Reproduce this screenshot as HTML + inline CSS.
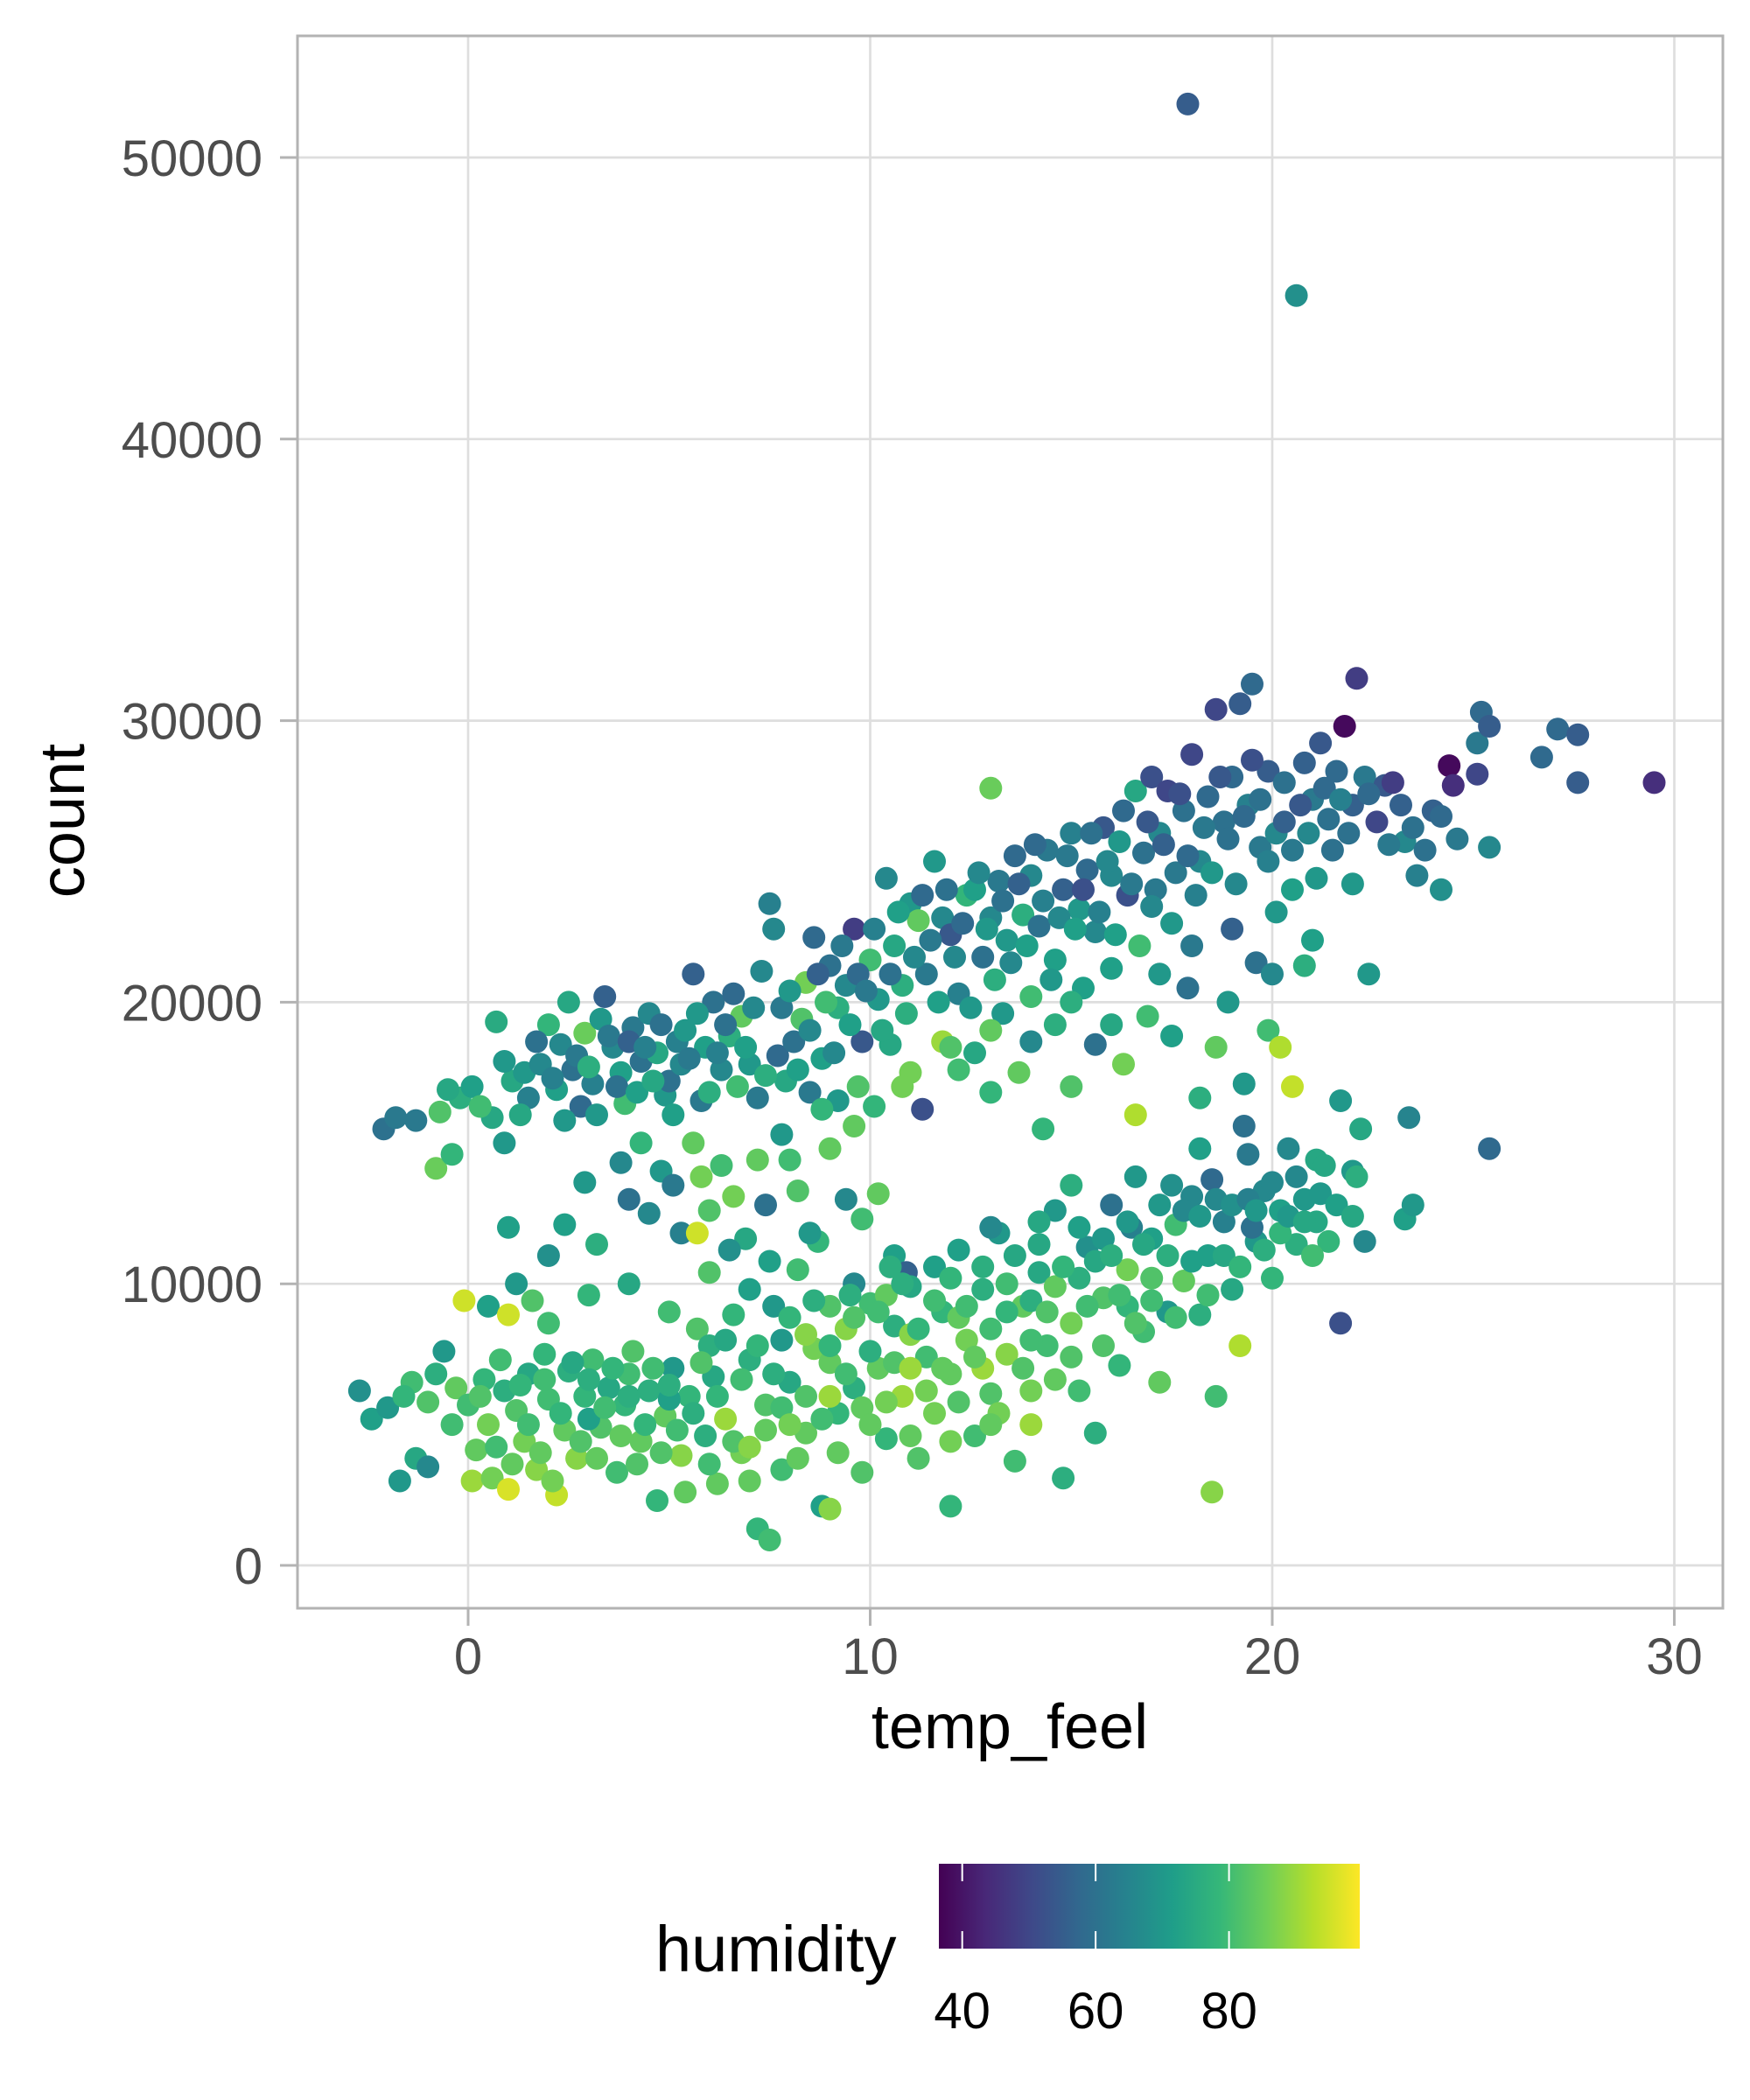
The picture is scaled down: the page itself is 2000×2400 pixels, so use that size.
<!DOCTYPE html>
<html><head><meta charset="utf-8"><style>html,body{margin:0;padding:0;background:#fff}svg{display:block}</style></head>
<body>
<svg id="chart" width="2000" height="2400" xmlns="http://www.w3.org/2000/svg" font-family="Liberation Sans, sans-serif">
<defs>
<linearGradient id="vir" x1="0" x2="1" y1="0" y2="0">
<stop offset="0" stop-color="#440154"/><stop offset="0.111" stop-color="#482878"/><stop offset="0.222" stop-color="#3e4989"/><stop offset="0.333" stop-color="#31688e"/><stop offset="0.444" stop-color="#26828e"/><stop offset="0.556" stop-color="#1f9e89"/><stop offset="0.667" stop-color="#35b779"/><stop offset="0.778" stop-color="#6ece58"/><stop offset="0.889" stop-color="#b5de2b"/><stop offset="1" stop-color="#fde725"/>
</linearGradient>
</defs>
<rect x="340" y="41" width="1629" height="1797" fill="#fff"/>
<g id="grid"></g>
<g id="pts"></g>
<rect x="340" y="41" width="1629" height="1797" fill="none" stroke="#b3b3b3" stroke-width="3"/>
<g id="axes"></g>
<text x="1154" y="1998" font-size="72" text-anchor="middle" fill="#000">temp_feel</text>
<text transform="translate(96,938) rotate(-90)" font-size="72" text-anchor="middle" fill="#000">count</text>
<text x="749" y="2253" font-size="74" fill="#000">humidity</text>
<rect x="1073" y="2130" width="481" height="97" fill="url(#vir)"/>
<g id="legend"></g>
</svg>
<script>
const xTicks=[0,10,20,30];
const yTicks=[0,10000,20000,30000,40000,50000];
const legendTicks=[40,60,80];
const temps=[];const counts=[];const hums=[];
const raw=`-2.1 15.5 60;-1.3 15.8 62;-0.8 14.1 85;-0.7 16.1 82;-0.4 14.6 78;-0.2 16.6 76;0.1 17 72;0.7 19.3 75;0.6 15.9 74;0.9 15 70;1.1 17.2 74;1.4 17.5 70;1.5 16.6 64;1.8 17.8 66;2 19.2 78;2.2 16.9 72;2.3 18.5 66;2.5 20 74;2.6 17.6 60;2.8 16.3 58;2.9 18.9 85;3.1 17.1 64;3.3 19.4 70;3.4 20.2 56;3.6 18.4 66;3.8 17.5 72;3.9 16.4 80;4.1 19.1 62;4.3 17.9 60;4.5 19.6 66;4.7 18.2 74;4.9 16.7 70;5.0 17.2 60;5.2 18.6 64;5.4 19.0 70;5.6 21.0 56;5.8 16.5 62;5.9 18.4 72;6.1 20.0 60;6.3 17.6 66;6.6 20.3 58;6.5 18.8 76;6.8 19.5 84;7.0 17.8 70;7.2 16.6 62;7.3 21.1 66;7.5 23.5 64;7.6 22.6 66;7.7 18.1 58;7.9 17.2 74;8.1 18.6 60;8.3 19.4 82;8.4 20.7 86;8.6 22.3 58;8.8 18.0 72;9.0 21.3 60;9.2 19.8 76;9.4 20.6 66;9.6 22.6 48;9.8 18.6 54;10.0 21.5 80;10.2 20.1 70;10.4 24.4 66;10.6 22.0 74;10.8 20.6 76;11.0 23.5 70;11.2 22.9 84;11.4 21.0 62;11.6 25.0 70;11.8 23.0 66;12.0 22.4 54;12.2 20.3 64;12.4 23.8 78;12.6 24.0 72;12.8 21.6 60;13.0 23.0 66;13.2 24.3 62;13.4 22.2 70;13.6 25.2 58;13.8 23.1 76;14.0 24.5 66;14.2 22.7 60;14.4 25.4 62;14.6 21.5 72;14.8 24.0 56;15.0 26.0 64;15.2 23.3 70;15.4 24.7 58;15.6 22.5 66;15.8 26.2 54;16.0 24.5 66;16.2 25.7 70;16.4 23.8 52;16.6 27.5 74;16.8 25.3 60;17.0 28.0 52;17.2 26.0 66;17.4 27.5 50;17.6 24.6 62;17.8 26.8 60;18.0 28.8 50;18.2 25.0 66;18.4 27.3 58;18.6 30.4 50;18.8 26.4 60;19.0 28.0 58;19.2 30.6 55;19.4 27.0 64;19.5 31.3 58;19.7 25.5 62;19.9 28.2 55;20.1 26.0 66;20.3 27.8 60;20.5 24.0 72;20.8 28.5 56;21.0 27.2 62;21.2 29.2 54;21.4 26.5 60;21.6 28.2 58;21.8 29.8 38;22.0 27.0 56;22.1 31.5 48;22.3 28.0 62;22.6 26.4 50;22.8 27.7 54;23.0 27.8 48;23.3 25.7 66;23.5 26.2 60;23.6 24.5 64;24.0 26.8 56;24.2 24.0 68;24.4 28.4 38;24.5 27.7 45;25.2 30.3 58;25.1 29.2 62;25.4 29.8 55;25.1 28.1 50;24.6 25.8 62;25.4 25.5 66;26.7 28.7 58;27.1 29.7 58;27.6 29.5 55;27.6 27.8 55;29.5 27.8 45;17.9 51.9 55;20.6 45.1 68;13.0 27.6 85;
8 14.4 80;8.5 16.8 62;9.2 16.5 70;9.7 17.0 82;10.1 16.3 78;10.5 18.5 74;11 17.5 86;11.3 16.2 52;11.8 18.6 90;12.2 17.6 80;12.6 18.2 74;13.0 16.8 78;13.3 19.6 70;13.7 17.5 84;14.0 18.6 66;14.3 15.5 78;14.6 19.2 76;15.0 17.0 82;15.3 20.5 72;15.6 18.5 60;16.0 19.2 74;16.3 17.8 86;16.6 16.0 92;16.9 19.5 80;17.2 21.0 70;17.5 18.8 72;17.9 20.5 60;18.2 16.6 76;18.6 18.4 84;18.9 20.0 70;19.3 17.1 70;19.6 21.4 60;19.9 19.0 80;20.2 18.4 92;20.5 17.0 94;20.8 21.3 76;21.1 14.4 74;21.7 16.5 70;22.2 15.5 74;22.4 21.0 70;22.0 24.2 70;
1.0 12.0 72;2.0 11.0 68;2.4 12.1 72;2.9 13.6 70;3.2 11.4 76;3.8 14.3 66;4.0 13.0 60;4.3 15.0 78;4.5 12.5 66;4.8 14.0 70;5.1 13.5 62;5.3 11.8 64;5.6 15.0 84;5.8 13.8 86;6.0 12.6 82;6.3 14.2 80;6.6 13.1 86;6.9 11.6 74;7.2 14.4 84;7.4 12.8 60;7.8 15.3 70;8.2 13.3 82;8.7 11.5 78;9.0 14.8 84;9.4 13.0 66;9.8 12.3 80;10.2 13.2 84;10.6 11.0 72;10.9 10.4 56;0.5 9.2 72;1.2 10.0 70;5.7 11.8 95;
-2.7 6.2 68;-2.4 5.2 72;-1.7 3.0 70;-1.3 3.8 74;-1.0 3.5 66;-1.4 6.5 80;-1.0 5.8 82;-0.6 7.6 70;-0.3 6.3 84;-0.1 9.4 95;0.0 5.7 80;0.1 3.0 90;0.2 4.1 84;0.4 6.6 78;0.6 3.1 86;0.8 7.3 80;1.0 8.9 95;1.0 2.7 96;1.2 5.5 82;1.4 4.4 86;1.5 6.8 74;1.7 3.4 88;1.9 7.5 78;2.0 5.9 80;2.2 2.5 94;2.4 4.8 84;2.5 6.9 76;2.7 3.8 88;2.9 6.0 78;3.1 7.3 80;3.3 4.9 82;3.5 6.3 74;3.7 3.3 80;3.9 5.7 78;4.1 7.6 82;4.3 4.4 84;4.5 6.2 76;4.7 2.3 78;4.9 5.3 84;5.1 7.0 70;5.3 3.9 88;5.5 6.0 78;5.7 8.4 82;5.9 4.6 76;6.1 6.7 74;6.2 2.9 84;6.4 5.2 90;6.6 8.9 78;6.8 4.0 86;7.0 7.3 76;7.2 1.3 78;7.5 0.9 80;7.4 5.7 82;7.6 9.2 70;7.8 3.4 80;8.0 6.5 74;8.2 10.5 80;8.4 4.7 84;8.6 7.7 86;8.8 2.1 72;9.0 2.0 88;9.0 9.2 82;9.2 5.4 78;9.4 8.4 88;9.6 6.3 76;9.8 3.3 82;10.0 9.3 80;10.2 7.0 84;10.4 4.5 78;10.6 8.5 76;10.8 6.0 90;11.0 9.9 74;11.2 3.8 82;11.4 7.4 80;11.6 5.4 86;11.8 9.0 78;12.0 2.1 78;12.0 6.8 84;12.2 11.2 72;12.4 8.0 86;12.6 4.6 80;12.8 9.8 76;13.0 6.1 82;13.2 11.8 70;13.4 7.5 88;13.6 3.7 80;13.8 9.2 84;14.0 5.0 90;14.2 10.4 74;14.4 7.8 80;14.6 12.6 70;14.8 3.1 76;15.0 8.6 86;15.2 6.2 80;15.4 11.3 68;15.6 4.7 76;15.8 9.5 82;16.0 12.8 60;16.2 7.1 78;16.4 10.5 86;16.6 13.8 70;16.8 8.3 80;17.0 11.6 72;17.2 6.5 84;17.4 9.0 70;17.6 12.1 80;17.8 10.1 84;18.0 13.1 66;18.2 8.9 76;18.4 11.0 72;18.5 2.6 88;18.6 6.0 80;18.8 12.2 64;19.0 9.8 74;19.2 7.8 92;19.4 14.6 62;19.6 11.5 70;19.8 13.3 66;20.0 10.2 78;20.2 12.6 72;20.4 14.8 66;20.6 11.4 76;20.8 13.0 70;21.1 12.2 74;21.4 11.5 78;21.7 8.6 52;22.0 14.0 70;22.3 11.5 66;23.3 12.3 72;23.5 12.8 70;23.4 15.9 65;25.4 14.8 58;22.1 13.8 76;21.3 14.2 74;
3.0 5.2 72;4.0 6.8 80;5.0 5.9 72;6.0 7.8 76;7.0 9.8 72;7.8 8.0 70;8.4 8.2 88;9.0 7.2 84;9.6 10.0 66;10.4 9.6 84;11.0 8.2 88;11.6 10.6 72;12.2 8.8 84;12.8 7.0 90;13.4 10.0 80;14.0 9.4 76;14.6 9.9 84;15.2 10.2 76;15.8 11.6 70;16.4 9.2 78;17.0 10.2 82;13.0 12.0 66;14.2 12.2 74;15.0 13.5 76;16.5 12.0 64;17.5 13.5 68;18.5 13.7 58;19.5 12.0 60;18.2 14.8 72;19.3 15.6 60;
-1.8 15.9 62;-0.5 16.9 74;0.3 16.3 80;0.9 17.9 70;1.3 16.0 74;1.7 18.6 60;2.1 17.3 64;2.4 15.8 70;2.7 18.1 62;3.0 17.7 76;3.2 16.0 70;3.5 18.8 62;3.7 17.0 60;4.0 18.6 56;4.2 16.8 72;4.4 18.4 64;4.6 17.2 74;4.8 19.2 60;5.1 16.0 72;5.3 17.8 66;5.5 18.0 62;5.7 19.6 70;6.0 16.8 76;6.2 18.2 64;6.4 19.2 60;6.7 17.0 80;6.9 18.4 72;7.1 19.8 66;7.4 17.4 76;7.8 19.8 62;8.0 20.4 70;8.2 17.6 72;8.5 19.0 66;8.7 21.0 56;8.9 20.0 80;9.1 18.2 66;9.3 22.0 62;9.5 19.2 72;9.7 21.0 58;9.9 20.4 62;10.1 22.6 64;10.3 19.0 74;10.5 21.0 60;10.7 23.2 72;10.9 19.6 76;11.1 21.6 66;11.3 23.8 58;11.5 22.2 62;11.7 20.0 72;11.9 24.0 60;12.1 21.6 66;12.3 22.8 58;12.5 19.8 70;12.7 24.6 66;12.9 22.6 70;13.1 20.8 76;13.3 23.6 60;13.5 21.4 66;13.7 24.2 56;13.9 22.0 72;14.1 25.6 58;14.3 23.6 64;14.5 20.8 70;14.7 23.0 66;14.9 25.2 62;15.1 22.6 72;15.3 24.0 52;15.5 26.0 60;15.7 23.2 64;15.9 25.0 66;16.1 22.4 72;16.3 26.8 58;16.5 24.2 62;16.7 22.0 80;16.9 26.4 54;17.1 24.0 62;17.3 25.6 56;17.5 22.8 70;17.7 27.4 52;17.9 25.2 58;18.1 23.8 64;18.3 26.2 62;18.5 24.6 70;18.7 28.0 54;18.9 25.8 60;19.1 24.2 66;19.3 26.6 58;19.5 28.6 52;19.7 27.2 60;19.9 25.0 64;20.1 23.2 70;20.3 26.4 56;20.5 25.4 62;20.7 27.0 54;20.9 26.0 66;21.1 24.4 70;21.3 27.6 58;21.5 25.4 60;21.7 27.2 64;21.9 26.0 60;22.4 27.4 58;22.9 25.6 62;23.2 27.0 56;23.8 25.4 60;24.2 26.6 58;18.0 22.0 62;19.0 22.6 56;20.0 21.0 66;21.0 22.2 72;17.0 23.4 66;16.0 21.2 72;15.0 20.0 76;14.0 20.2 80;13.0 19.0 84;12.0 18.4 82;10.8 17.0 86;9.6 15.6 84;8.8 16.2 78;
-2.0 5.6 70;-1.6 6.0 78;-0.8 6.8 76;-0.4 5.0 80;0.3 6.0 82;0.5 5.0 86;0.7 4.2 80;0.9 6.2 76;1.1 3.6 84;1.3 6.4 78;1.5 5.0 80;1.8 4.0 84;1.9 6.6 80;2.1 3.0 86;2.3 5.4 78;2.6 7.2 74;2.8 4.4 82;3.0 6.6 76;3.2 3.8 84;3.4 5.6 80;3.6 7.0 78;3.8 4.6 84;4.0 6.0 76;4.2 3.6 82;4.4 5.0 78;4.6 7.0 80;4.8 4.0 82;5.0 6.4 76;5.2 4.8 80;5.4 2.6 84;5.6 5.4 76;5.8 7.2 82;6.0 3.6 80;6.2 6.0 78;6.4 8.0 74;6.6 4.4 82;6.8 6.6 80;7.0 3.0 84;7.2 7.8 78;7.4 4.8 84;7.6 6.8 76;7.8 5.6 80;8.0 8.8 78;8.2 3.8 84;8.4 6.0 82;8.6 9.4 76;8.8 5.2 80;9.0 7.8 78;9.2 4.0 84;9.4 6.8 80;9.6 8.8 82;9.8 5.6 84;10.0 7.6 76;10.2 9.0 80;10.4 5.8 86;10.6 7.2 82;10.8 10.0 76;11.0 4.6 84;11.2 8.4 78;11.4 6.2 86;11.6 9.4 80;11.8 7.0 84;12.0 10.2 78;12.2 5.8 82;12.4 9.2 80;12.6 7.4 84;12.8 10.6 76;13.0 8.4 80;13.2 5.4 86;13.4 9.0 78;13.6 11.0 74;13.8 7.0 82;14.0 8.0 80;14.2 11.4 74;14.4 9.0 82;14.6 6.6 84;14.8 10.6 78;15.0 7.4 82;15.2 12.0 72;15.4 9.2 80;15.6 10.8 74;15.8 7.8 82;16.0 11.0 76;16.2 9.6 80;16.4 12.2 70;16.6 8.6 82;16.8 11.4 74;17.0 9.4 80;17.2 12.8 70;17.4 11.0 76;17.6 8.8 80;17.8 12.6 66;18.0 10.8 72;18.2 12.4 70;18.4 9.6 80;18.6 13.0 66;18.8 11.0 74;19.0 12.8 68;19.2 10.6 78;19.4 13.0 64;19.6 12.6 70;19.8 11.2 76;20.0 13.6 66;20.2 11.8 78;20.4 12.4 70;20.6 13.8 66;20.8 12.2 74;21.0 11.0 80;21.2 13.2 70;21.6 12.8 72;22.0 12.4 74;7.0 4.2 88;8.0 5.0 86;9.0 6.0 90;10.0 5.0 84;11.0 7.0 90;12.0 4.4 86;13.0 5.0 84;14.0 6.2 86;5.0 9.0 80;6.0 10.4 82;4.0 10.0 74;3.0 9.6 78;2.0 8.6 80;1.6 9.4 82;6.5 11.2 68;7.5 10.8 72;8.5 11.8 70;9.5 9.6 76;10.5 10.6 76`;
raw.split(';').forEach(s=>{const p=s.trim().split(/\s+/).map(Number);if(p.length===3){temps.push(p[0]);counts.push(p[1]*1000);hums.push(p[2]);}});

const NS='http://www.w3.org/2000/svg';
const X0=340,X1=1969,Y0=41,Y1=1838;
const xScale=t=>535+t*45.95;
const yScale=c=>1789-c*0.03218;
const hMin=36.5,hMax=99.6;
const lScale=h=>1073+(h-hMin)/(hMax-hMin)*481;
const stops=['#440154','#482878','#3e4989','#31688e','#26828e','#1f9e89','#35b779','#6ece58','#b5de2b','#fde725'].map(c=>[parseInt(c.slice(1,3),16),parseInt(c.slice(3,5),16),parseInt(c.slice(5,7),16)]);
function color(h){let f=Math.max(0,Math.min(1,(h-hMin)/(hMax-hMin)))*(stops.length-1);const i=Math.min(stops.length-2,Math.floor(f));const u=f-i;const a=stops[i],b=stops[i+1];return 'rgb('+a.map((v,k)=>Math.round(v+(b[k]-v)*u)).join(',')+')';}
function mk(tag,attrs,parent){const e=document.createElementNS(NS,tag);for(const k in attrs)e.setAttribute(k,attrs[k]);parent.appendChild(e);return e;}
const grid=document.getElementById('grid'),axes=document.getElementById('axes'),pts=document.getElementById('pts'),leg=document.getElementById('legend');
xTicks.forEach(t=>{const x=xScale(t);
 const g=mk('line',{x1:x,x2:x,y1:Y0,y2:Y1,stroke:'#dedede','stroke-width':2.7},grid);
 
 
 const tk=mk('line',{x1:x,x2:x,y1:Y1,y2:Y1+20,stroke:'#b3b3b3','stroke-width':3},axes);
 
 
 const lb=mk('text',{x:x,y:1913,'font-size':58,'text-anchor':'middle',fill:'#4d4d4d'},axes);lb.textContent=t;
 
 
});
yTicks.forEach(c=>{const y=yScale(c);
 const g=mk('line',{x1:X0,x2:X1,y1:y,y2:y,stroke:'#dedede','stroke-width':2.7},grid);
 
 
 const tk=mk('line',{x1:X0-20,x2:X0,y1:y,y2:y,stroke:'#b3b3b3','stroke-width':3},axes);
 
 
 const lb=mk('text',{x:300,y:y+21,'font-size':58,'text-anchor':'end',fill:'#4d4d4d'},axes);lb.textContent=c;
 
 
});
temps.forEach((t,i)=>{
 const c=mk('circle',{cx:xScale(t).toFixed(1),cy:yScale(counts[i]).toFixed(1),r:13,fill:color(hums[i])},pts);
 
 
});
legendTicks.forEach(h=>{const x=lScale(h);
 const a=mk('line',{x1:x,x2:x,y1:2130,y2:2150,stroke:'#fff','stroke-width':2},leg);
 
 
 const b=mk('line',{x1:x,x2:x,y1:2207,y2:2227,stroke:'#fff','stroke-width':2},leg);
 
 
 const lb=mk('text',{x:x,y:2318,'font-size':58,'text-anchor':'middle',fill:'#000'},leg);lb.textContent=h;
 
 
});
</script>
</body></html>
